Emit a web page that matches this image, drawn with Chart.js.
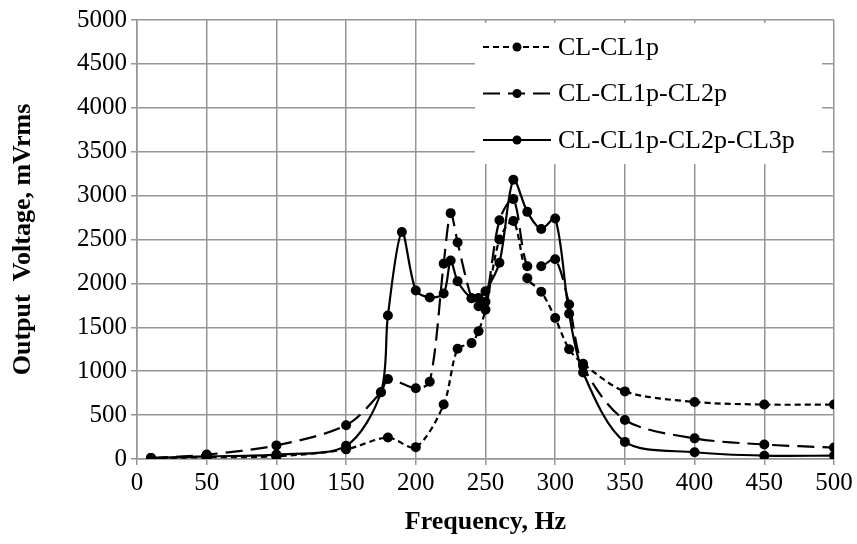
<!DOCTYPE html>
<html lang="en">
<head>
  <meta charset="UTF-8" />
  <title>Output Voltage vs Frequency</title>
  <script src="https://cdn.jsdelivr.net/npm/chart.js"></script>
  <style>
    html, body { margin: 0; padding: 0; background: #fff; }
    #wrap { width: 857px; height: 544px; position: relative; }
  </style>
</head>
<body>
  <div id="wrap"><canvas id="freqChart"></canvas></div>

  <script>
    // series labels
    const seriesNames = ['CL-CL1p', 'CL-CL1p-CL2p', 'CL-CL1p-CL2p-CL3p'];

    // CL-CL1p (short dashes)
    const freq1 = [10, 50, 100, 150, 180, 200, 220, 230, 240, 245, 250, 260, 270, 280, 290, 300, 310, 320, 350, 400, 450, 500];
    const volt1 = [10, 20, 30, 110, 245, 135, 620, 1255, 1320, 1455, 1700, 2500, 2710, 2060, 1905, 1605, 1250, 1085, 770, 650, 620, 620];

    // CL-CL1p-CL2p (long dashes)
    const freq2 = [10, 50, 100, 150, 175, 180, 200, 210, 220, 225, 230, 240, 245, 250, 260, 270, 280, 290, 300, 310, 320, 350, 400, 450, 500];
    const volt2 = [10, 50, 155, 385, 760, 910, 805, 880, 2225, 2800, 2465, 1830, 1740, 1790, 2720, 2960, 2195, 2195, 2275, 1760, 1060, 445, 235, 165, 130];

    // CL-CL1p-CL2p-CL3p (solid)
    const freq3 = [10, 50, 100, 150, 175, 180, 190, 200, 210, 220, 225, 230, 240, 245, 250, 260, 270, 280, 290, 300, 310, 320, 350, 400, 450, 500];
    const volt3 = [10, 30, 50, 150, 760, 1635, 2585, 1920, 1840, 1885, 2260, 2025, 1830, 1835, 1910, 2235, 3180, 2815, 2620, 2740, 1655, 985, 195, 77, 38, 38];

    // axis ticks
    const xTicks = [0, 50, 100, 150, 200, 250, 300, 350, 400, 450, 500];
    const yTicks = [0, 500, 1000, 1500, 2000, 2500, 3000, 3500, 4000, 4500, 5000];

    const serif = "'Liberation Serif', 'Times New Roman', serif";
    const gridGray = '#959595';

    const toPoints = (xs, ys) => xs.map((x, i) => ({ x: x, y: ys[i] }));
    const dashes = [[6, 4], [17, 8], []];

    function makeSet(i, xs, ys) {
      return {
        label: seriesNames[i],
        data: toPoints(xs, ys),
        showLine: true,
        borderColor: '#000',
        backgroundColor: '#000',
        borderWidth: 2.2,
        borderDash: dashes[i],
        pointRadius: 5,
        pointHoverRadius: 5,
        pointBackgroundColor: '#000',
        pointBorderWidth: 0,
        tension: 0.3
      };
    }

    // legend drawn inside the plot, on a white box over the grid
    const innerLegend = {
      id: 'innerLegend',
      beforeDatasetsDraw(chart) {
        const ctx = chart.ctx;
        const area = chart.chartArea;
        const bx = 475, by = 23, bw = area.right - 12 - bx, bh = 141;
        ctx.save();
        ctx.fillStyle = '#fff';
        ctx.fillRect(bx, by, bw, bh);
        chart.data.datasets.forEach((ds, i) => {
          const y = 47 + i * 46.5;
          ctx.strokeStyle = '#000';
          ctx.lineWidth = 2.2;
          ctx.setLineDash(ds.borderDash);
          ctx.beginPath();
          ctx.moveTo(483, y);
          ctx.lineTo(551, y);
          ctx.stroke();
          ctx.setLineDash([]);
          ctx.beginPath();
          ctx.arc(517, y, 4.5, 0, Math.PI * 2);
          ctx.fillStyle = '#000';
          ctx.fill();
          ctx.font = '26px ' + serif;
          ctx.textBaseline = 'middle';
          ctx.textAlign = 'left';
          ctx.fillText(ds.label, 558, y + 1);
        });
        ctx.restore();
      }
    };

    new Chart(document.getElementById('freqChart'), {
      type: 'scatter',
      data: {
        datasets: [
          makeSet(0, freq1, volt1),
          makeSet(1, freq2, volt2),
          makeSet(2, freq3, volt3)
        ]
      },
      options: {
        responsive: true,
        maintainAspectRatio: false,
        animation: false,
        layout: { padding: { left: 0, right: 23, top: 20, bottom: 0 } },
        plugins: {
          legend: { display: false },
          tooltip: { enabled: false }
        },
        scales: {
          x: {
            type: 'linear',
            min: 0,
            max: 500,
            afterBuildTicks: (s) => { s.ticks = xTicks.map(v => ({ value: v })); },
            afterFit: (s) => { s.height = 85; },
            grid: { color: gridGray, lineWidth: 1.5, tickLength: 6, tickColor: gridGray },
            border: { color: gridGray, width: 1.5 },
            ticks: {
              color: '#000',
              font: { family: serif, size: 25 },
              padding: 3,
              maxRotation: 0,
              callback: (v) => String(v)
            },
            title: {
              display: true,
              text: 'Frequency, Hz',
              color: '#000',
              font: { family: serif, size: 26, weight: 'bold' },
              padding: { top: 0, bottom: 6 }
            }
          },
          y: {
            min: 0,
            max: 5000,
            afterBuildTicks: (s) => { s.ticks = yTicks.map(v => ({ value: v })); },
            afterFit: (s) => { s.width = 137; },
            grid: { color: gridGray, lineWidth: 1.5, tickLength: 6, tickColor: gridGray },
            border: { color: gridGray, width: 1.5 },
            ticks: {
              color: '#000',
              font: { family: serif, size: 25 },
              padding: 4,
              callback: (v) => String(v)
            },
            title: {
              display: true,
              text: 'Output  Voltage, mVrms',
              color: '#000',
              font: { family: serif, size: 26, weight: 'bold' },
              padding: { top: 8, bottom: 0 }
            }
          }
        }
      },
      plugins: [innerLegend]
    });
  </script>
</body>
</html>
